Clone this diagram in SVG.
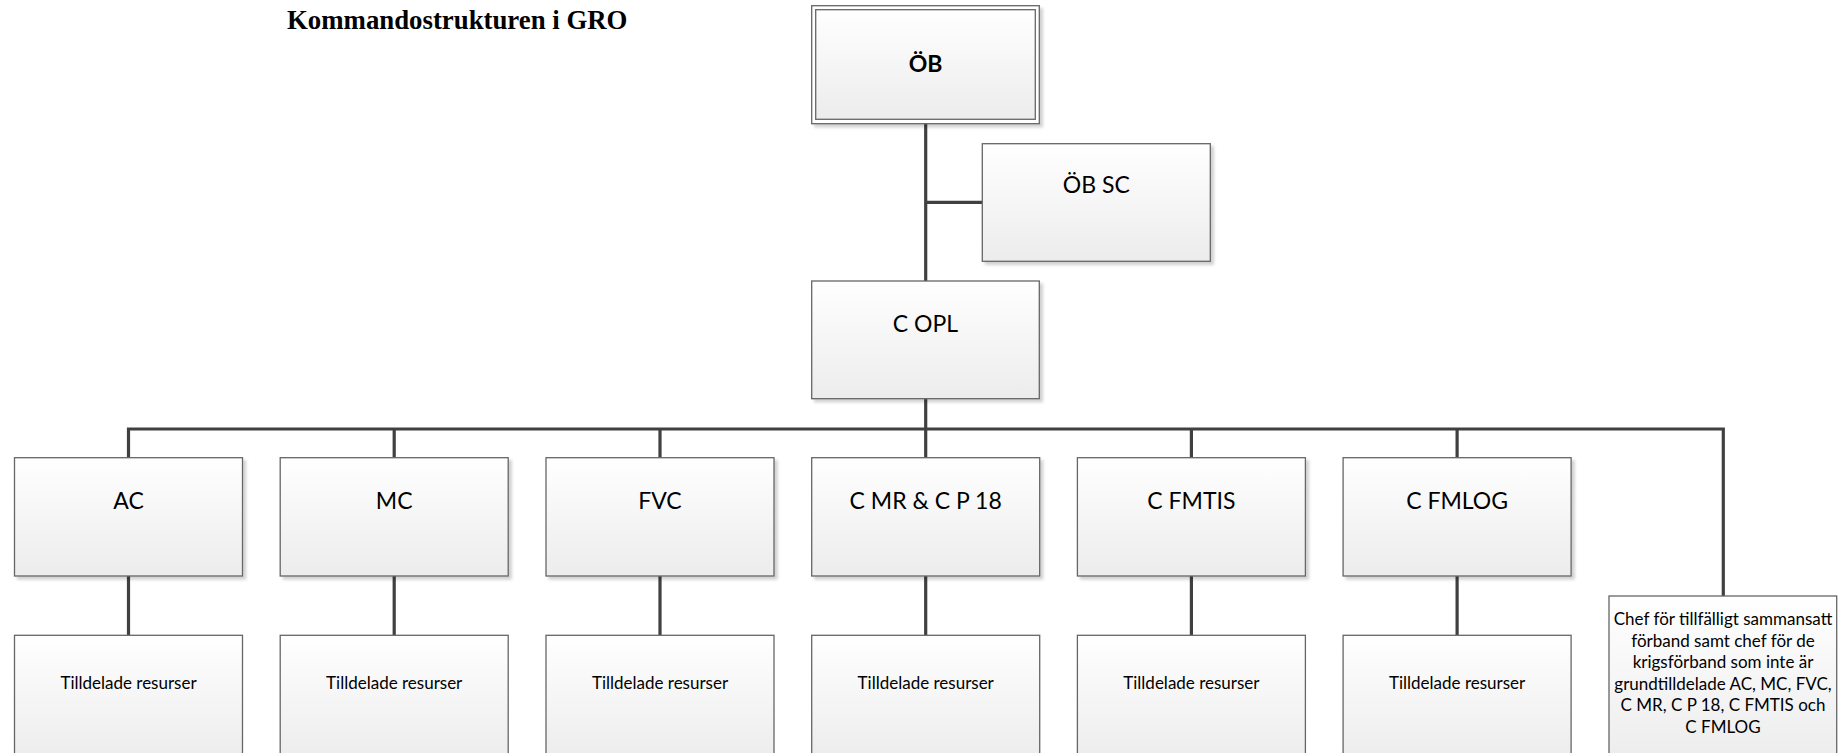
<svg xmlns="http://www.w3.org/2000/svg" width="1848" height="753" viewBox="0 0 1848 753">
<style>
.box{fill:url(#g);stroke:#666;stroke-width:1.3}
.lbl{font-family:Lato,"Liberation Sans",sans-serif;font-size:23px;fill:#000;text-anchor:middle}
.sm{font-family:Lato,"Liberation Sans",sans-serif;font-size:17px;fill:#000;text-anchor:middle}
.con{stroke:#404040;stroke-width:3.2;fill:none;stroke-linecap:butt;stroke-linejoin:miter}
</style>
<defs>
<linearGradient id="g" x1="0" y1="0" x2="0" y2="1">
<stop offset="0" stop-color="#ffffff"/>
<stop offset="1" stop-color="#ececec"/>
</linearGradient>
<filter id="sh" x="-5%" y="-5%" width="115%" height="120%">
<feDropShadow dx="3" dy="3" stdDeviation="1.5" flood-color="#000" flood-opacity="0.18"/>
</filter>
</defs>
<rect width="1848" height="753" fill="#fff"/>
<text x="287" y="29" style="font-family:'Liberation Serif',serif;font-weight:bold;font-size:26.8px;fill:#000">Kommandostrukturen i GRO</text>
<g id="connectors">
<path class="con" d="M925.7 123.7V281"/>
<path class="con" d="M925.7 202.3H982.3"/>
<path class="con" d="M925.7 398.7V457.7"/>
<path class="con" d="M128.5 457.7V429H1723.3V596"/>
<path class="con" d="M394.2 429V457.7M660 429V457.7M1191.4 429V457.7M1457.1 429V457.7"/>
<path class="con" d="M128.5 576V635.3M394.2 576V635.3M660 576V635.3M925.7 576V635.3M1191.4 576V635.3M1457.1 576V635.3"/>
</g>
<g id="n-ob">
<rect x="811.7" y="5.7" width="227.6" height="118" fill="#fff" stroke="#666" stroke-width="1.3" filter="url(#sh)"/>
<rect class="box" x="815.7" y="9.7" width="219.6" height="109.6"/>
<text class="lbl" x="925.5" y="71.7" font-weight="bold">ÖB</text>
</g>
<g id="n-obsc">
<rect class="box" x="982.3" y="143.7" width="228" height="117.6" filter="url(#sh)"/>
<text class="lbl" x="1096.3" y="193.3">ÖB SC</text>
</g>
<g id="n-copl">
<rect class="box" x="811.7" y="281" width="227.6" height="117.7" filter="url(#sh)"/>
<text class="lbl" x="925.5" y="331.7">C OPL</text>
</g>
<g id="n-ac">
<rect class="box" x="14.5" y="457.7" width="228" height="118.3" filter="url(#sh)"/>
<text class="lbl" x="128.5" y="509.3">AC</text>
</g>
<g id="n-mc">
<rect class="box" x="280.2" y="457.7" width="228" height="118.3" filter="url(#sh)"/>
<text class="lbl" x="394.2" y="509.3">MC</text>
</g>
<g id="n-fvc">
<rect class="box" x="546" y="457.7" width="228" height="118.3" filter="url(#sh)"/>
<text class="lbl" x="660" y="509.3">FVC</text>
</g>
<g id="n-cmr">
<rect class="box" x="811.7" y="457.7" width="228" height="118.3" filter="url(#sh)"/>
<text class="lbl" x="925.7" y="509.3">C MR &amp; C P 18</text>
</g>
<g id="n-cfmtis">
<rect class="box" x="1077.4" y="457.7" width="228" height="118.3" filter="url(#sh)"/>
<text class="lbl" x="1191.4" y="509.3">C FMTIS</text>
</g>
<g id="n-cfmlog">
<rect class="box" x="1343.1" y="457.7" width="228" height="118.3" filter="url(#sh)"/>
<text class="lbl" x="1457.1" y="509.3">C FMLOG</text>
</g>
<g id="n-r-ac">
<rect class="box" x="14.5" y="635.3" width="228" height="125"/>
<text class="sm" x="128.5" y="689">Tilldelade resurser</text>
</g>
<g id="n-r-mc">
<rect class="box" x="280.2" y="635.3" width="228" height="125"/>
<text class="sm" x="394.2" y="689">Tilldelade resurser</text>
</g>
<g id="n-r-fvc">
<rect class="box" x="546" y="635.3" width="228" height="125"/>
<text class="sm" x="660" y="689">Tilldelade resurser</text>
</g>
<g id="n-r-cmr">
<rect class="box" x="811.7" y="635.3" width="228" height="125"/>
<text class="sm" x="925.7" y="689">Tilldelade resurser</text>
</g>
<g id="n-r-cfmtis">
<rect class="box" x="1077.4" y="635.3" width="228" height="125"/>
<text class="sm" x="1191.4" y="689">Tilldelade resurser</text>
</g>
<g id="n-r-cfmlog">
<rect class="box" x="1343.1" y="635.3" width="228" height="125"/>
<text class="sm" x="1457.1" y="689">Tilldelade resurser</text>
</g>
<g id="n-chef">
<rect class="box" x="1609" y="596" width="227.7" height="170"/>
<text class="sm" x="1723" y="625">Chef för tillfälligt sammansatt</text>
<text class="sm" x="1723" y="646.6">förband samt chef för de</text>
<text class="sm" x="1723" y="668.2">krigsförband som inte är</text>
<text class="sm" x="1723" y="689.8">grundtilldelade AC, MC, FVC,</text>
<text class="sm" x="1723" y="711.4">C MR, C P 18, C FMTIS och</text>
<text class="sm" x="1723" y="733">C FMLOG</text>
</g>
</svg>
